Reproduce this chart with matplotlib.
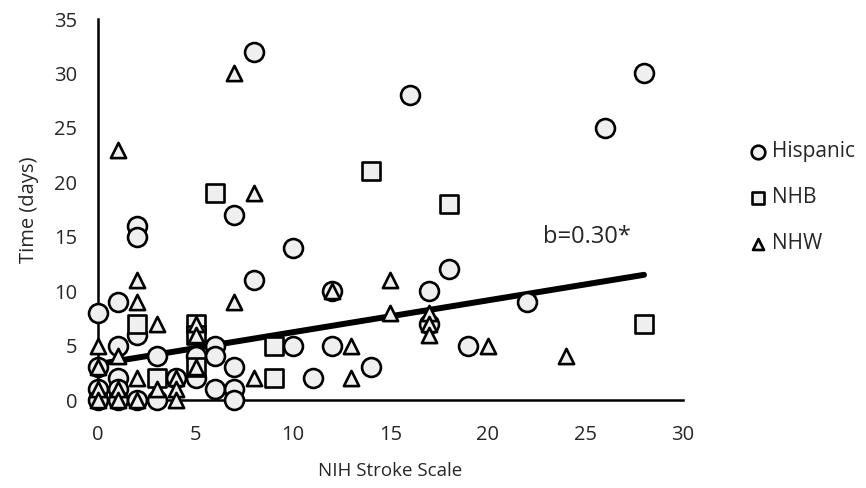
import matplotlib.pyplot as plt

# Hispanic (circles)
hisp_x = [0, 0, 0, 0, 1, 1, 1, 1, 1, 2, 2, 2, 2, 3, 3, 4, 5, 5, 6, 6, 6,
          7, 7, 7, 7, 8, 8, 10, 10, 11, 12, 12, 14, 16, 17, 17, 18, 19, 22, 26, 28]
hisp_y = [8, 3, 1, 0, 9, 5, 2, 1, 0, 16, 15, 6, 0, 4, 0, 2, 4, 2, 5, 4, 1,
          17, 3, 1, 0, 32, 11, 14, 5, 2, 10, 5, 3, 28, 10, 7, 12, 5, 9, 25, 30]

# NHB (squares)
nhb_x = [2, 3, 5, 5, 5, 6, 9, 9, 14, 18, 28]
nhb_y = [7, 2, 7, 6, 3, 19, 5, 2, 21, 18, 7]

# NHW (triangles)
nhw_x = [0, 0, 0, 0, 1, 1, 1, 1, 2, 2, 2, 2, 3, 3, 4, 4, 4, 5, 5, 5,
         7, 7, 8, 8, 12, 13, 13, 15, 15, 17, 17, 17, 20, 24]
nhw_y = [5, 3, 1, 0, 23, 4, 1, 0, 11, 9, 2, 0, 7, 1, 2, 1, 0, 7, 6, 3,
         30, 9, 19, 2, 10, 5, 2, 11, 8, 8, 7, 6, 5, 4]

# regression line end points
fit_x = [0, 28]
fit_y = [3.3, 11.5]

x_ticks = [0, 5, 10, 15, 20, 25, 30]
y_ticks = [0, 5, 10, 15, 20, 25, 30, 35]


def main():
    plt.rcParams['font.family'] = ['Open Sans', 'DejaVu Sans']
    txt = '#262626'
    fill = '#efefef'

    fig = plt.figure(figsize=(8.66, 4.88), dpi=100)
    ax = fig.add_axes([98 / 866, 1 - 400 / 488, 585 / 866, 381 / 488])

    ax.plot(fit_x, fit_y, color='black', lw=4.3, solid_capstyle='round', zorder=2)

    ax.scatter(hisp_x, hisp_y, marker='o', s=185, facecolor=fill, edgecolor='black',
               linewidth=1.9, clip_on=False, zorder=3, label='Hispanic')
    ax.scatter(nhb_x, nhb_y, marker='s', s=165, facecolor=fill, edgecolor='black',
               linewidth=1.9, clip_on=False, zorder=4, label='NHB')
    ax.scatter(nhw_x, nhw_y, marker='^', s=120, facecolor=fill, edgecolor='black',
               linewidth=1.9, clip_on=False, zorder=5, label='NHW')

    ax.text(22.8, 15, 'b=0.30*', fontsize=17, color=txt, va='center', ha='left')

    ax.set_xlim(0, 30)
    ax.set_ylim(0, 35)
    ax.set_xticks(x_ticks)
    ax.set_yticks(y_ticks)
    ax.tick_params(length=0, labelsize=14.5, colors=txt)
    ax.tick_params(axis='y', pad=15)
    ax.tick_params(axis='x', pad=18)

    for side in ['top', 'right']:
        ax.spines[side].set_visible(False)
    ax.spines['left'].set_linewidth(1.8)
    ax.spines['bottom'].set_linewidth(1.8)
    ax.spines['left'].set_zorder(1)
    ax.spines['bottom'].set_zorder(1)

    ax.set_xlabel('NIH Stroke Scale', fontsize=13.5, color=txt, labelpad=12)
    ax.set_ylabel('Time (days)', fontsize=14.5, color=txt, labelpad=11)

    leg = fig.legend(loc='upper left', bbox_to_anchor=(740 / 866, 1 - 133 / 488),
                     frameon=False, fontsize=15, labelspacing=1.2,
                     handletextpad=0.25, handlelength=0.9, markerscale=0.72,
                     borderaxespad=0)
    for t in leg.get_texts():
        t.set_color(txt)

    fig.savefig('out.png', dpi=100)


if __name__ == '__main__':
    main()
